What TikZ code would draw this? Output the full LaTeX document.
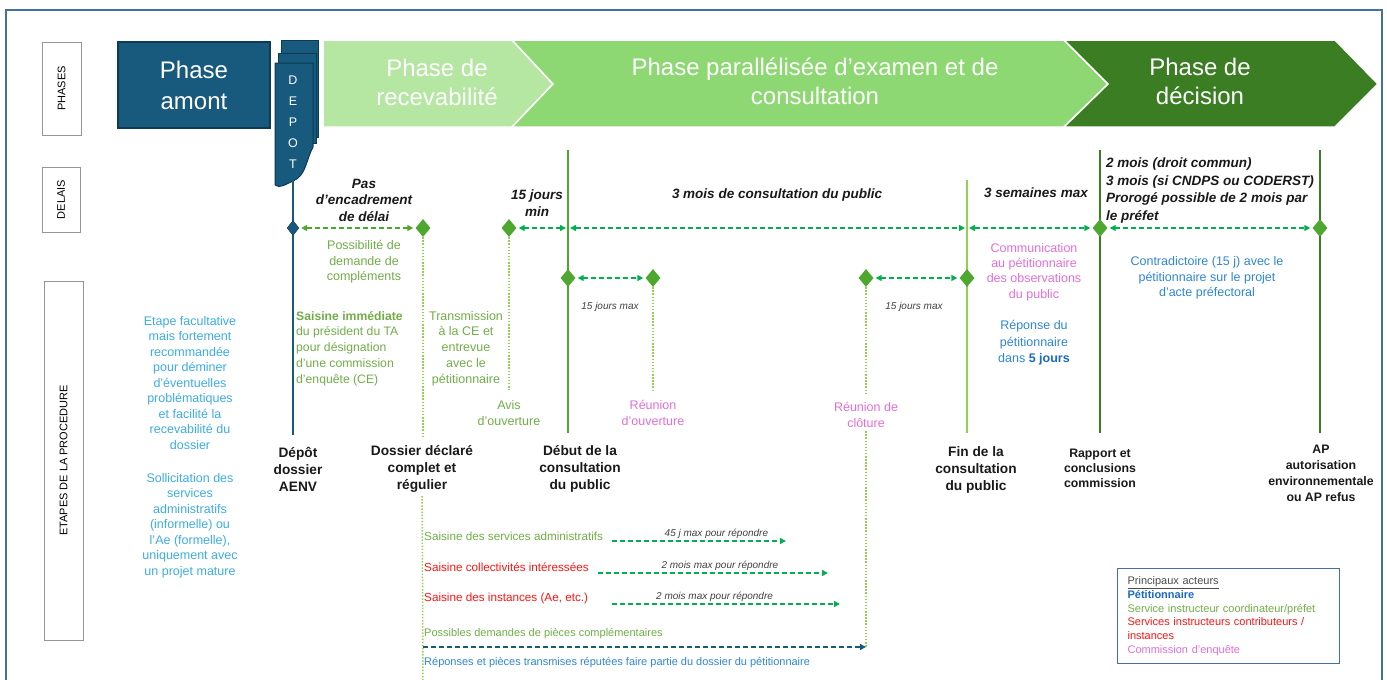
\documentclass[tikz,border=0pt]{standalone}
\usepackage{fontspec}
\setmainfont{Liberation Sans}
\usepackage{tikz}
\usetikzlibrary{shapes,arrows.meta}
\definecolor{frameblue}{RGB}{65,113,156}
\definecolor{petrol}{RGB}{23,90,125}
\definecolor{petroldark}{RGB}{13,59,82}
\definecolor{recgreen}{RGB}{181,230,162}
\definecolor{pargreen}{RGB}{142,216,115}
\definecolor{decgreen}{RGB}{59,125,35}
\definecolor{diagreen}{RGB}{78,167,46}
\definecolor{arrowgreen}{RGB}{0,176,80}
\definecolor{dotgreen}{RGB}{146,208,80}
\definecolor{txtgreen}{RGB}{112,173,71}
\definecolor{txtred}{RGB}{255,20,20}
\definecolor{txtpink}{RGB}{226,110,214}
\definecolor{txtblue}{RGB}{46,134,214}
\definecolor{txtdeepblue}{RGB}{25,105,195}
\definecolor{txtcyan}{RGB}{60,172,228}
\definecolor{labelgray}{RGB}{150,150,150}
\definecolor{inkblack}{RGB}{25,25,25}

\tikzset{
  sidelabel/.style={draw=labelgray, line width=0.8pt, rotate=90, inner sep=0pt, font=\fontsize{11}{13}\selectfont},
  phasetext/.style={text=white, align=center, font=\fontsize{24}{29}\selectfont},
  milestone/.style={diamond, fill=diagreen, inner sep=0pt, minimum width=15pt, minimum height=18pt},
  datebar/.style={line width=1.6pt},
  guide/.style={dotgreen, line width=1.5pt, dash pattern=on 1.5pt off 1.6pt},
  spanarrow/.style={arrowgreen, line width=1.8pt, dash pattern=on 5pt off 3pt,
    {Triangle[length=6pt,width=6pt]}-{Triangle[length=6pt,width=6pt]}, shorten <=2pt, shorten >=2pt},
  sendarrow/.style={arrowgreen, line width=1.8pt, dash pattern=on 5pt off 3pt, -{Triangle[length=6pt,width=6pt]}},
  delai/.style={align=center, text=inkblack, font=\fontsize{13.5}{16.5}\selectfont\bfseries\itshape},
  remark/.style={align=center, font=\fontsize{12.5}{15.5}\selectfont},
  stage/.style={align=center, text=inkblack, font=\fontsize{13.7}{17}\selectfont\bfseries},
  tinyital/.style={text=black!75, inner sep=1.5pt, font=\fontsize{10}{11}\selectfont\itshape},
  saisine/.style={anchor=west, inner xsep=0pt, font=\fontsize{11.7}{14}\selectfont},
}

\begin{document}
\begin{tikzpicture}[x=1pt,y=-1pt]
\useasboundingbox (0,0) rectangle (1387,680);
\draw[frameblue, line width=1.5pt] (6,695) -- (6,10) -- (1382,10) -- (1382,695);

\node[sidelabel, minimum width=93pt, minimum height=39pt] (lblphases) at (61.5,88.5) {PHASES};
\node[sidelabel, minimum width=65pt, minimum height=38pt] (lbldelais) at (61,199.5) {DELAIS};
\node[sidelabel, minimum width=359pt, minimum height=39pt] (lbletapes) at (63.5,460.5) {ETAPES DE LA PROCEDURE};

\node[phasetext, fill=petrol, draw=petroldark, line width=1.2pt, minimum width=152pt, minimum height=86pt,
  font=\fontsize{24}{31}\selectfont] (amont) at (194,85) {Phase\\amont};

\filldraw[fill=petrol, draw=petroldark, line width=1pt] (281,40) rectangle (318,137);
\filldraw[fill=petrol, draw=petroldark, line width=1pt] (278,53) rectangle (316,143);
\filldraw[fill=petrol, draw=petroldark, line width=1pt] (275,63) -- (313,63) -- (313,147)
  .. controls (306,160) and (306,176) .. (293,181) .. controls (286,184) and (280,189) .. (275,185) -- cycle;
\node[text=white, align=center, font=\fontsize{12.5}{21}\selectfont] (depot) at (293,122) {D\\E\\P\\O\\T};

\filldraw[fill=recgreen, draw=white, line width=1.5pt] (323,40) -- (512,40) -- (553,84) -- (512,127) -- (323,127) -- cycle;
\filldraw[fill=pargreen, draw=white, line width=1.5pt] (512,40) -- (1064,40) -- (1108,84) -- (1064,127) -- (512,127) -- (553,84) -- cycle;
\filldraw[fill=decgreen, draw=white, line width=1.5pt] (1064,40) -- (1335,40) -- (1378,84) -- (1335,127) -- (1064,127) -- (1108,84) -- cycle;
\node[phasetext] (prec) at (437,82) {Phase de\\recevabilité};
\node[phasetext] (ppar) at (815,81) {Phase parallélisée d’examen et de\\consultation};
\node[phasetext] (pdec) at (1200,81) {Phase de\\décision};

\coordinate (depot-foot) at (293,180);
\coordinate (depot-bot) at (293,435);
\coordinate (debut-top) at (568,150);
\coordinate (debut-a) at (568,228);
\coordinate (debut-bot) at (568,433);
\coordinate (fin-top) at (967,180);
\coordinate (fin-a) at (967,228);
\coordinate (fin-bot) at (967,433);
\coordinate (rap-top) at (1100,150);
\coordinate (rap-bot) at (1100,433);
\coordinate (ap-top) at (1320,150);
\coordinate (ap-bot) at (1320,433);
\coordinate (complet-end) at (423,437);
\coordinate (complet-foot) at (423,690);
\coordinate (avis-end) at (509,390);
\coordinate (ouv-end) at (653,390);
\coordinate (clo-end) at (866,395);
\coordinate (clo-foot) at (866,647);

\draw[petrol, datebar] (depot-foot) -- (depot-bot);
\draw[diagreen, datebar] (debut-top) -- (debut-bot);
\draw[dotgreen, datebar] (fin-top) -- (fin-bot);
\draw[decgreen, datebar] (rap-top) -- (rap-bot);
\draw[decgreen, datebar] (ap-top) -- (ap-bot);

\node[milestone, fill=petrol, draw=petroldark, minimum width=12pt, minimum height=15pt] (mdepot) at (293,228) {};
\node[milestone] (mcomplet) at (423,228) {};
\node[milestone] (mavis) at (509,228) {};
\node[milestone] (mdebut) at (568,278) {};
\node[milestone] (mouv) at (653,278) {};
\node[milestone] (mclo) at (866,278) {};
\node[milestone] (mfin) at (967,278) {};
\node[milestone] (mrap) at (1100,228) {};
\node[milestone] (map) at (1320,228) {};

\draw[guide] (mcomplet) -- (complet-end);
\draw[guide] (mavis) -- (avis-end);
\draw[guide] (mouv) -- (ouv-end);
\draw[guide] (mclo) -- (clo-end);

\draw[spanarrow, diagreen] (mdepot) -- (mcomplet);
\draw[spanarrow] (mavis) -- (debut-a);
\draw[spanarrow] (debut-a) -- (fin-a);
\draw[spanarrow] (fin-a) -- (mrap);
\draw[spanarrow] (mrap) -- (map);
\draw[spanarrow] (mdebut) -- (mouv);
\draw[spanarrow] (mclo) -- (mfin);

\node[delai] (dpas) at (364,200) {Pas\\d’encadrement\\de  délai};
\node[delai] (d15) at (537,203) {15 jours\\min};
\node[delai] (d3mois) at (777,195) {3 mois de consultation du public};
\node[delai] (d3sem) at (1036,193) {3 semaines max};
\node[delai, anchor=west, align=left, inner xsep=0pt, font=\fontsize{13.5}{17.6}\selectfont\bfseries\itshape] (d2mois) at (1106,190.5)
  {2 mois (droit commun)\\3 mois (si CNDPS ou CODERST)\\Prorogé possible de 2 mois par\\le préfet};

\node[remark, text=txtgreen] (ncompl) at (364,262) {Possibilité de\\demande de\\compléments};
\node[tinyital] (n15a) at (610,307) {15 jours max};
\node[tinyital] (n15b) at (914,307) {15 jours max};
\node[remark, text=txtpink, font=\fontsize{12.5}{15.3}\selectfont] (ncomm) at (1034,272)
  {Communication\\au pétitionnaire\\des observations\\du public};
\node[remark, text=txtblue, font=\fontsize{12.5}{16.5}\selectfont] (nrep) at (1034,343)
  {Réponse du\\pétitionnaire\\dans \textcolor{txtdeepblue}{\bfseries 5 jours}};
\node[remark, text=txtblue] (ncontra) at (1207,278)
  {Contradictoire (15 j) avec le\\pétitionnaire sur le projet\\d’acte préfectoral};

\node[remark, text=txtcyan] (nfacult) at (190,383)
  {Etape facultative\\mais fortement\\recommandée\\pour  déminer\\d’éventuelles\\problématiques\\et facilité la\\recevabilité du\\dossier};
\node[remark, text=txtcyan] (nsollic) at (190,525.5)
  {Sollicitation des\\services\\administratifs\\(informelle) ou\\l’Ae (formelle),\\uniquement avec\\un projet mature};

\node[remark, anchor=west, align=left, inner xsep=0pt, text=txtgreen, font=\fontsize{12.2}{15.8}\selectfont] (nsaista) at (296,348.5)
  {\textbf{Saisine immédiate}\\du président du TA\\pour désignation\\d’une commission\\d’enquête (CE)};
\node[remark, text=txtgreen, font=\fontsize{12.5}{15.8}\selectfont] (ntrans) at (466,348.5)
  {Transmission\\à la CE et\\entrevue\\avec le\\pétitionnaire};
\node[remark, text=txtgreen, font=\fontsize{12.5}{16}\selectfont] (navis) at (509,413) {Avis\\d’ouverture};
\node[remark, text=txtpink, font=\fontsize{12.5}{16}\selectfont] (nouv) at (653,413) {Réunion\\d’ouverture};
\node[remark, text=txtpink, font=\fontsize{12.5}{16}\selectfont] (nclo) at (866,415) {Réunion de\\clôture};

\node[stage] (sdepot) at (298,469) {Dépôt\\dossier\\AENV};
\node[stage] (scomplet) at (422,469) {Dossier déclaré\\complet et\\régulier};
\node[stage] (sdebut) at (580,469) {Début de la\\consultation\\du public};
\node[stage] (sfin) at (976,470) {Fin de la\\consultation\\du public};
\node[stage, font=\fontsize{12.3}{15}\selectfont\bfseries] (srap) at (1100,468) {Rapport  et\\conclusions\\commission};
\node[stage, font=\fontsize{12.3}{16}\selectfont\bfseries] (sap) at (1321,473) {AP\\autorisation\\environnementale\\ou AP refus};

\draw[guide] (scomplet) -- (complet-foot);
\draw[guide] (nclo) -- (clo-foot);

\node[saisine, text=txtgreen] (sadm) at (424,536) {Saisine des services administratifs};
\node[saisine, text=txtred] (scoll) at (424,567) {Saisine collectivités intéressées};
\node[saisine, text=txtred] (sinst) at (424,598) {Saisine des instances (Ae, etc.)};
\coordinate (sadm-start) at (612,541);
\coordinate (sadm-end) at (786,541);
\coordinate (scoll-start) at (598,573);
\coordinate (scoll-end) at (828,573);
\coordinate (sinst-start) at (612,604);
\coordinate (sinst-end) at (840,604);
\draw[sendarrow] (sadm-start) -- node[tinyital, above, pos=0.6] {45 j max pour répondre} (sadm-end);
\draw[sendarrow] (scoll-start) -- node[tinyital, above, pos=0.53] {2 mois max pour répondre} (scoll-end);
\draw[sendarrow] (sinst-start) -- node[tinyital, above, pos=0.45] {2 mois max pour répondre} (sinst-end);

\node[saisine, text=txtgreen, font=\fontsize{11}{12}\selectfont] (spieces) at (424,634) {Possibles demandes de pièces complémentaires};
\coordinate (pieces-start) at (423,647);
\draw[sendarrow, petrol] (pieces-start) -- (clo-foot);
\node[saisine, text=txtblue, font=\fontsize{11}{12}\selectfont] (sreponse) at (424,663) {Réponses et pièces transmises réputées faire partie du dossier du pétitionnaire};

\node[draw=frameblue, line width=1.2pt, anchor=north west, minimum height=95pt, inner xsep=10pt, inner ysep=5pt,
  align=left, text width=202pt, font=\fontsize{11}{13.8}\selectfont] (legend) at (1117,568)
  {\textcolor{black!70}{\underline{Principaux acteurs}}\\
   \textcolor{txtdeepblue}{\bfseries Pétitionnaire}\\
   \textcolor{txtgreen}{Service instructeur coordinateur/préfet}\\
   \textcolor{txtred}{Services instructeurs contributeurs /}\\
   \textcolor{txtred}{instances}\\
   \textcolor{txtpink}{Commission d’enquête}};
\end{tikzpicture}
\end{document}
